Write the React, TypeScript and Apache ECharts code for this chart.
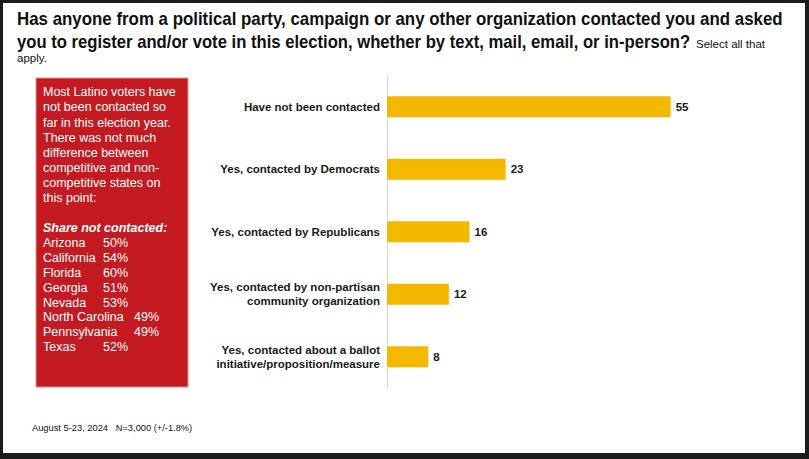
import React, { useEffect, useRef } from "react";
import * as echarts from "echarts";

const titleLine1 = "Has anyone from a political party, campaign or any other organization contacted you and asked";
const titleLine2 = "you to register and/or vote in this election, whether by text, mail, email, or in-person?";
const titleNote1 = "Select all that";
const titleNote2 = "apply.";
const footnote = "August 5-23, 2024   N=3,000 (+/-1.8%)";

const boxParagraph = [
  "Most Latino voters have",
  "not been contacted so",
  "far in this election year.",
  "There was not much",
  "difference between",
  "competitive and non-",
  "competitive states on",
  "this point:",
];
const boxHeading = "Share not contacted:";
const states = ["Arizona", "California", "Florida", "Georgia", "Nevada", "North Carolina", "Pennsylvania", "Texas"];
const shares = ["50%", "54%", "60%", "51%", "53%", "49%", "49%", "52%"];

const categories = [
  "Have not been contacted",
  "Yes, contacted by Democrats",
  "Yes, contacted by Republicans",
  "Yes, contacted by non-partisan\ncommunity organization",
  "Yes, contacted about a ballot\ninitiative/proposition/measure",
];
const values = [55, 23, 16, 12, 8];

export default function App() {
  const ref = useRef<HTMLDivElement>(null);
  useEffect(() => {
    if (!ref.current) return;
    const chart = echarts.init(ref.current, null, { renderer: "svg" });
    const sans = "'Liberation Sans', Arial, Helvetica, sans-serif";
    const stateTexts: any[] = [];
    states.forEach((s, i) => {
      const y = 242.7 + i * 14.95;
      stateTexts.push({
        type: "text",
        style: { text: s, x: 43, y, fontSize: 12.5, fontFamily: sans, fill: "#ffffff", textVerticalAlign: "middle" },
      });
      stateTexts.push({
        type: "text",
        style: {
          text: shares[i],
          x: s.length > 10 ? 134 : 103,
          y,
          fontSize: 12.5,
          fontFamily: sans,
          fill: "#ffffff",
          textVerticalAlign: "middle",
        },
      });
    });
    chart.setOption({
      animation: false,
      backgroundColor: "#1d1d1d",
      graphic: [
        { type: "rect", shape: { x: 3, y: 3, width: 802, height: 450 }, style: { fill: "#ffffff" }, z: -10 },
        {
          type: "text",
          x: 17,
          y: 19,
          scaleX: 0.938,
          style: { text: titleLine1, x: 0, y: 0, fontSize: 18, fontWeight: "bold", fontFamily: sans, fill: "#111111", textVerticalAlign: "middle" },
        },
        {
          type: "text",
          x: 17,
          y: 42,
          scaleX: 0.925,
          style: { text: titleLine2, x: 0, y: 0, fontSize: 18, fontWeight: "bold", fontFamily: sans, fill: "#111111", textVerticalAlign: "middle" },
        },
        {
          type: "text",
          style: { text: titleNote1, x: 696, y: 43.5, fontSize: 11.5, fontFamily: sans, fill: "#111111", textVerticalAlign: "middle" },
        },
        {
          type: "text",
          style: { text: titleNote2, x: 17, y: 57.5, fontSize: 11.5, fontFamily: sans, fill: "#111111", textVerticalAlign: "middle" },
        },
        {
          type: "rect",
          shape: { x: 36, y: 78, width: 152, height: 309 },
          style: { fill: "#C31B21", stroke: "#E8898C", lineWidth: 1 },
        },
        {
          type: "text",
          style: {
            text: boxParagraph.join("\n"),
            x: 43,
            y: 84.7,
            fontSize: 12.5,
            lineHeight: 15.15,
            fontFamily: sans,
            fill: "#ffffff",
            textVerticalAlign: "top",
          },
        },
        {
          type: "text",
          style: {
            text: boxHeading,
            x: 43,
            y: 228.3,
            fontSize: 12.5,
            fontWeight: "bold",
            fontStyle: "italic",
            fontFamily: sans,
            fill: "#ffffff",
            textVerticalAlign: "middle",
          },
        },
        ...stateTexts,
        {
          type: "text",
          style: { text: footnote, x: 32, y: 428, fontSize: 9.3, fontFamily: sans, fill: "#111111", textVerticalAlign: "middle" },
        },
      ],
      grid: { left: 387, top: 75.5, width: 309.5, height: 312.5, containLabel: false },
      xAxis: { type: "value", min: 0, max: 60, show: false },
      yAxis: {
        type: "category",
        data: categories,
        inverse: true,
        axisTick: { show: false },
        axisLine: { show: true, lineStyle: { color: "#d9d9d9", width: 1 } },
        axisLabel: {
          margin: 7,
          fontSize: 11.5,
          fontWeight: "bold",
          fontFamily: sans,
          color: "#1a1a1a",
          lineHeight: 14,
          align: "right",
        },
        splitLine: { show: false },
      },
      series: [
        {
          type: "bar",
          data: values,
          barWidth: 21,
          itemStyle: { color: "#F5B800" },
          label: {
            show: true,
            position: "right",
            distance: 5,
            fontSize: 11.5,
            fontWeight: "bold",
            fontFamily: sans,
            color: "#1a1a1a",
          },
        },
      ],
    });
    return () => chart.dispose();
  }, []);
  return <div ref={ref} style={{ position: "absolute", left: 0, top: 0, width: 809, height: 459 }} />;
}
